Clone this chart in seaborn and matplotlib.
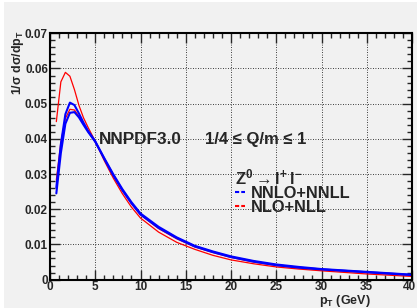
import numpy as np
import pandas as pd
import seaborn as sns
import matplotlib.pyplot as plt
from matplotlib.lines import Line2D
from matplotlib.patches import Rectangle
from matplotlib.transforms import ScaledTranslation

# ______________________________________________________________________________

# Data: normalised pT spectra, two curves per order
pt = [0.7, 1.2, 1.7, 2.2, 2.7, 3.2, 3.7, 4.2, 5, 6, 7, 8, 9, 10, 12, 14, 16,
      18, 20, 22.5, 25, 27.5, 30, 35, 40]
nnlo_hi = [0.0262, 0.0385, 0.0470, 0.0503, 0.0496, 0.0472, 0.0446, 0.0423,
           0.0393, 0.0343, 0.0296, 0.0254, 0.0217, 0.0185, 0.0147, 0.0118,
           0.0094, 0.0078, 0.0064, 0.0051, 0.0041, 0.0034, 0.0029, 0.0021,
           0.0013]
nnlo_lo = [0.0245, 0.0360, 0.0443, 0.0474, 0.0476, 0.0461, 0.0440, 0.0420,
           0.0392, 0.0345, 0.0299, 0.0257, 0.0220, 0.0188, 0.0150, 0.0120,
           0.0096, 0.0080, 0.0066, 0.0053, 0.0043, 0.0036, 0.0030, 0.0022,
           0.0014]
nlo_hi = [0.0449, 0.0562, 0.0589, 0.0578, 0.0540, 0.0495, 0.0460, 0.0433,
          0.0393, 0.0338, 0.0288, 0.0244, 0.0206, 0.0175, 0.0135, 0.0106,
          0.0086, 0.0069, 0.0056, 0.0045, 0.0036, 0.0030, 0.0025, 0.0016,
          0.0009]
nlo_lo = [0.0283, 0.0390, 0.0458, 0.0484, 0.0482, 0.0464, 0.0443, 0.0421,
          0.0391, 0.0342, 0.0295, 0.0253, 0.0216, 0.0184, 0.0145, 0.0116,
          0.0093, 0.0077, 0.0063, 0.0050, 0.0040, 0.0033, 0.0028, 0.0020,
          0.0012]

xticks = [0, 5, 10, 15, 20, 25, 30, 35, 40]
yticks = [0, 0.01, 0.02, 0.03, 0.04, 0.05, 0.06, 0.07]
ytick_labels = ['0', '0.01', '0.02', '0.03', '0.04', '0.05', '0.06', '0.07']

# ______________________________________________________________________________

sns.set_style('ticks')
plt.rcParams['font.family'] = ['Liberation Sans', 'DejaVu Sans']
plt.rcParams['font.weight'] = 'bold'
plt.rcParams['mathtext.fontset'] = 'custom'
for key in ['mathtext.rm', 'mathtext.it', 'mathtext.bf']:
    plt.rcParams[key] = 'Liberation Sans:bold'

bg = '#f1f1f1'
fig = plt.figure(figsize=(4.17, 3.08), dpi=100, facecolor=bg)
# thin white strip on the left / top edge of the canvas
fig.patches.append(Rectangle((0, 0), 4 / 417, 1, transform=fig.transFigure,
                             facecolor='white', edgecolor='none'))
fig.patches.append(Rectangle((0, 1 - 2 / 308), 1, 2 / 308, transform=fig.transFigure,
                             facecolor='white', edgecolor='none'))

ax = fig.add_axes([50 / 417, 28.4 / 308, 362 / 417, 246.3 / 308])
ax.set_facecolor(bg)

curves = [(nlo_hi, 'red', 0.9), (nlo_lo, 'red', 0.9),
          (nnlo_hi, 'blue', 1.5), (nnlo_lo, 'blue', 1.5)]
for vals, col, lw in curves:
    d = pd.DataFrame({'pt': pt, 'y': vals})
    sns.lineplot(data=d, x='pt', y='y', color=col, lw=lw, ax=ax)

ax.set_xlim(0, 40)
ax.set_ylim(0, 0.07)
ax.set_xticks(xticks)
ax.set_xticklabels([str(t) for t in xticks])
ax.set_yticks(yticks)
ax.set_yticklabels(ytick_labels)
ax.set_xticks(np.arange(0, 40.1, 1), minor=True)
ax.set_yticks(np.arange(0, 0.0701, 0.002), minor=True)
ax.set_xlabel('')
ax.set_ylabel('')
ax.tick_params(which='major', direction='in', length=7, width=1,
               top=True, right=True, labelsize=8.5, pad=1.5)
ax.tick_params(axis='x', which='major', pad=0.8)
ax.tick_params(which='minor', direction='in', length=3.5, width=1,
               top=True, right=True)
for lab in ax.get_xticklabels() + ax.get_yticklabels():
    lab.set_fontweight('bold')
# keep the last x label inside the canvas, as in the reference
last = ax.get_xticklabels()[-1]
last.set_transform(last.get_transform() +
                   ScaledTranslation(-3 / 100, 0, fig.dpi_scale_trans))
for spine in ax.spines.values():
    spine.set_linewidth(1.5)
    spine.set_color('black')
ax.grid(True, which='major', color='black', linestyle=(0, (1, 2)), lw=0.6)

# Annotations
ax.text(0.135, 0.567, 'NNPDF3.0', transform=ax.transAxes, fontsize=12.3,
        fontweight='bold', va='center', ha='left')
ax.text(0.428, 0.567, '1/4 \u2264 Q/m \u2264 1', transform=ax.transAxes,
        fontsize=12, fontweight='bold', va='center', ha='left')
ax.text(0.511, 0.4166, r'$\mathbf{Z^{0} \rightarrow l^{+}\, l^{-}}$',
        transform=ax.transAxes, fontsize=12, va='center', ha='left')

handles = [Line2D([], [], color='blue', lw=1.5, linestyle=(0, (2, 1))),
           Line2D([], [], color='red', lw=1.5, linestyle=(0, (2, 1)))]
leg = ax.legend(handles, ['NNLO+NNLL', 'NLO+NLL'], loc='upper left',
                bbox_to_anchor=(0.511, 0.38), frameon=False, fontsize=11.8,
                handlelength=0.6, handletextpad=0.4, labelspacing=-0.05,
                borderpad=0, borderaxespad=0)
for t in leg.get_texts():
    t.set_fontweight('bold')

fig.text(18 / 417, 1 - 30 / 308, r'1/$\sigma$ d$\sigma$/dp$_{T}$', rotation=90,
         ha='center', va='top', fontsize=9, fontweight='bold')
fig.text(371 / 417, 1 - 301 / 308, r'p$_{T}$ (GeV)', ha='right', va='center',
         fontsize=9, fontweight='bold')

fig.savefig('out.png', dpi=100, facecolor=bg)
